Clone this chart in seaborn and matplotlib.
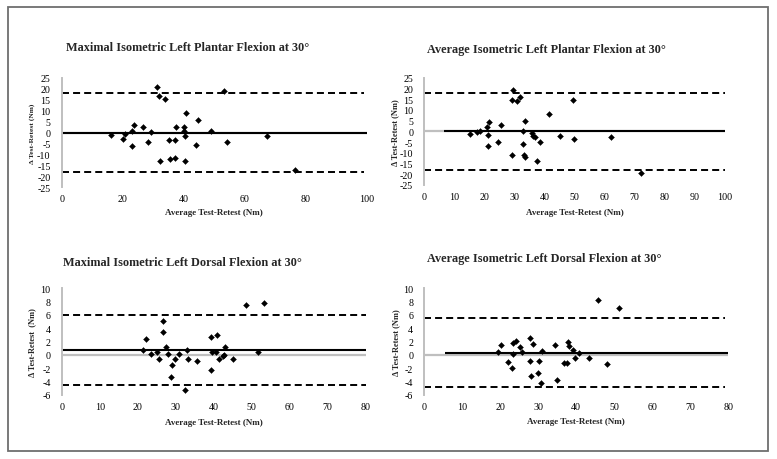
import matplotlib
matplotlib.use("Agg")
import matplotlib.pyplot as plt
import seaborn as sns
import pandas as pd
from matplotlib.patches import Rectangle

# ---------------- data ----------------
titles = [
    "Maximal Isometric Left Plantar Flexion at 30°",
    "Average Isometric Left Plantar Flexion at 30°",
    "Maximal Isometric Left Dorsal Flexion at 30°",
    "Average Isometric Left Dorsal Flexion at 30°",
]
xlabel_text = "Average Test-Retest (Nm)"
ylabel_texts = ["Δ Test-Retest (Nm)", "Δ Test-Retest (Nm)",
                "Δ Test-Retest  (Nm)", "Δ Test-Retest (Nm)"]

max_pf_avg = [31.3, 32.0, 34.0, 53.2, 40.8, 44.8, 23.6, 26.7, 22.9, 37.6,
              40.2, 40.0, 29.2, 49.1, 16.2, 20.8, 20.2, 40.5, 67.2, 28.2,
              35.3, 37.2, 43.9, 54.3, 22.9, 32.1, 35.6, 37.2, 40.5, 76.5]
max_pf_diff = [20.9, 16.6, 15.1, 18.9, 8.8, 5.8, 3.3, 2.4, 0.9, 2.4,
               2.4, 0.9, 0.3, 0.8, -1.1, -0.6, -2.9, -1.5, -1.4, -4.4,
               -3.5, -3.5, -5.5, -4.4, -6.2, -13.1, -11.9, -11.6, -12.8, -17.1]
max_pf_bias, max_pf_loa = 0.0, [18.0, -18.0]

avg_pf_avg = [29.4, 29.3, 30.8, 31.9, 49.6, 41.5, 21.4, 33.6, 25.6, 20.9,
              18.4, 17.6, 15.1, 32.8, 21.2, 35.9, 36.2, 36.7, 45.0, 49.7,
              62.1, 38.6, 24.4, 32.8, 21.3, 29.2, 33.2, 33.5, 37.6, 72.2]
avg_pf_diff = [19.1, 14.6, 14.3, 16.0, 14.7, 7.9, 4.5, 4.6, 2.8, 1.9,
               0.3, -0.5, -1.3, 0.0, -1.9, -0.8, -2.0, -2.8, -2.3, -3.7,
               -2.5, -4.8, -5.0, -5.9, -6.7, -10.9, -10.9, -11.8, -13.8, -19.3]
avg_pf_bias, avg_pf_loa = 0.0, [18.0, -18.2]

max_df_avg = [48.5, 53.3, 26.7, 26.6, 22.1, 39.2, 40.8, 21.3, 27.4, 43.1,
              33.0, 23.6, 25.2, 28.0, 30.9, 39.6, 40.7, 51.7, 42.7, 42.4,
              25.6, 29.9, 33.2, 41.5, 45.2, 35.5, 29.0, 28.8, 39.3, 32.5]
max_df_diff = [7.5, 7.8, 5.1, 3.4, 2.4, 2.75, 3.05, 0.75, 1.1, 1.1,
               0.75, 0.05, 0.4, 0.05, 0.05, 0.4, 0.4, 0.4, -0.1, -0.25,
               -0.6, -0.6, -0.6, -0.6, -0.6, -1.0, -1.6, -3.3, -2.3, -5.3]
max_df_bias, max_df_loa = 0.65, [6.0, -4.6]

avg_df_avg = [45.8, 51.2, 20.1, 19.4, 23.3, 24.0, 25.2, 23.3, 25.6, 22.1,
              23.0, 27.9, 28.7, 27.8, 31.0, 30.3, 28.2, 29.8, 30.6, 34.4,
              35.0, 37.7, 38.2, 39.2, 40.7, 39.6, 36.7, 37.6, 43.3, 48.1]
avg_df_diff = [8.3, 7.0, 1.5, 0.35, 1.8, 2.1, 1.15, 0.05, 0.35, -1.05,
               -2.05, 2.55, 1.6, -0.95, 0.5, -0.95, -3.15, -2.75, -4.25, 1.45,
               -3.75, 1.85, 1.3, 0.65, 0.2, -0.55, -1.2, -1.2, -0.55, -1.35]
avg_df_bias, avg_df_loa = 0.3, [5.5, -4.9]

x_ticks = [list(range(0, 101, 20)), list(range(0, 101, 10)),
           list(range(0, 81, 10)), list(range(0, 81, 10))]
y_ticks = [list(range(-25, 26, 5)), list(range(-25, 26, 5)),
           list(range(-6, 11, 2)), list(range(-6, 11, 2))]

panels = [
    (max_pf_avg, max_pf_diff, max_pf_bias, max_pf_loa),
    (avg_pf_avg, avg_pf_diff, avg_pf_bias, avg_pf_loa),
    (max_df_avg, max_df_diff, max_df_bias, max_df_loa),
    (avg_df_avg, avg_df_diff, avg_df_bias, avg_df_loa),
]

# ---------------- style ----------------
sns.set_theme(style="white")
plt.rcParams["font.family"] = ["Liberation Serif", "DejaVu Serif"]
plt.rcParams["axes.unicode_minus"] = False

W, H = 777, 460
fig = plt.figure(figsize=(W / 100, H / 100), dpi=100)
fig.patch.set_facecolor("white")

# pixel boxes of the plot areas: left, top, right, bottom
boxes = [
    (61.7, 78.7, 366.7, 188.3),
    (424.3, 78.7, 725.0, 186.0),
    (61.7, 289.3, 365.7, 395.7),
    (424.3, 289.3, 728.3, 395.7),
]
title_pos = [(188, 48), (546, 50), (182, 263), (544, 259)]
ylab_px = [32, 395, 32, 396]
ylab_size = [5.4, 6.0, 6.0, 6.0]
xlab_py = [213, 213.3, 423, 422]
mean_start = [0, 6.5, 0, 5.4]
dash_end_frac = [0.99, 1.0, 1.0, 0.99]

gray = "#bfbfbf"

for i, ((xs, ys, bias, loa), (l, t, r, b)) in enumerate(zip(panels, boxes)):
    ax = fig.add_axes([l / W, 1 - b / H, (r - l) / W, (b - t) / H])
    ax.set_facecolor("none")
    xmax = x_ticks[i][-1]
    ymin, ymax = y_ticks[i][0], y_ticks[i][-1]
    ax.set_xlim(0, xmax)
    ax.set_ylim(ymin, ymax)

    df = pd.DataFrame({"avg": xs, "diff": ys})

    # gray zero axis line
    ax.plot([0, xmax], [0, 0], color=gray, lw=1.6, zorder=1, solid_capstyle="butt")
    # bias line
    ax.plot([mean_start[i], xmax], [bias, bias], color="black", lw=1.5, zorder=2,
            solid_capstyle="butt")
    # limits of agreement
    for v in loa:
        ax.plot([0, xmax * dash_end_frac[i]], [v, v], color="black", lw=1.4,
                ls=(0, (3.6, 2.1)), zorder=2)

    sns.scatterplot(data=df, x="avg", y="diff", ax=ax, marker="D", s=9,
                    color="black", edgecolor="black", linewidth=0.3, zorder=3,
                    legend=False)

    for sp in ["top", "right", "bottom"]:
        ax.spines[sp].set_visible(False)
    ax.spines["left"].set_color(gray)
    ax.spines["left"].set_linewidth(1.4)

    ax.set_xticks(x_ticks[i])
    ax.set_yticks(y_ticks[i])
    ax.tick_params(axis="both", length=0, labelsize=7.2, colors="black")
    ax.tick_params(axis="x", pad=5)
    ax.tick_params(axis="y", pad=8)
    ax.grid(False)

    ax.set_xlabel(xlabel_text, fontsize=6.5, fontweight="bold")
    ax.set_ylabel(ylabel_texts[i], fontsize=ylab_size[i], fontweight="bold")
    ax.xaxis.set_label_coords(0.5, (b - xlab_py[i]) / (b - t), transform=ax.transAxes)
    ax.xaxis.label.set_va("center")
    ax.yaxis.set_label_coords((ylab_px[i] - l) / (r - l), 0.5, transform=ax.transAxes)
    ax.yaxis.label.set_va("center")

    tx, ty = title_pos[i]
    fig.text(tx / W, 1 - ty / H, titles[i], ha="center", va="center",
             fontsize=8.8, fontweight="bold")

# outer frame
fig.patches.append(Rectangle((7.5 / W, 1 - 451.5 / H), (768 - 7.5) / W, (451.5 - 7.5) / H,
                             transform=fig.transFigure, fill=False,
                             edgecolor="#6e6e6e", lw=1.3))

fig.savefig("out.png", dpi=100, facecolor="white")
